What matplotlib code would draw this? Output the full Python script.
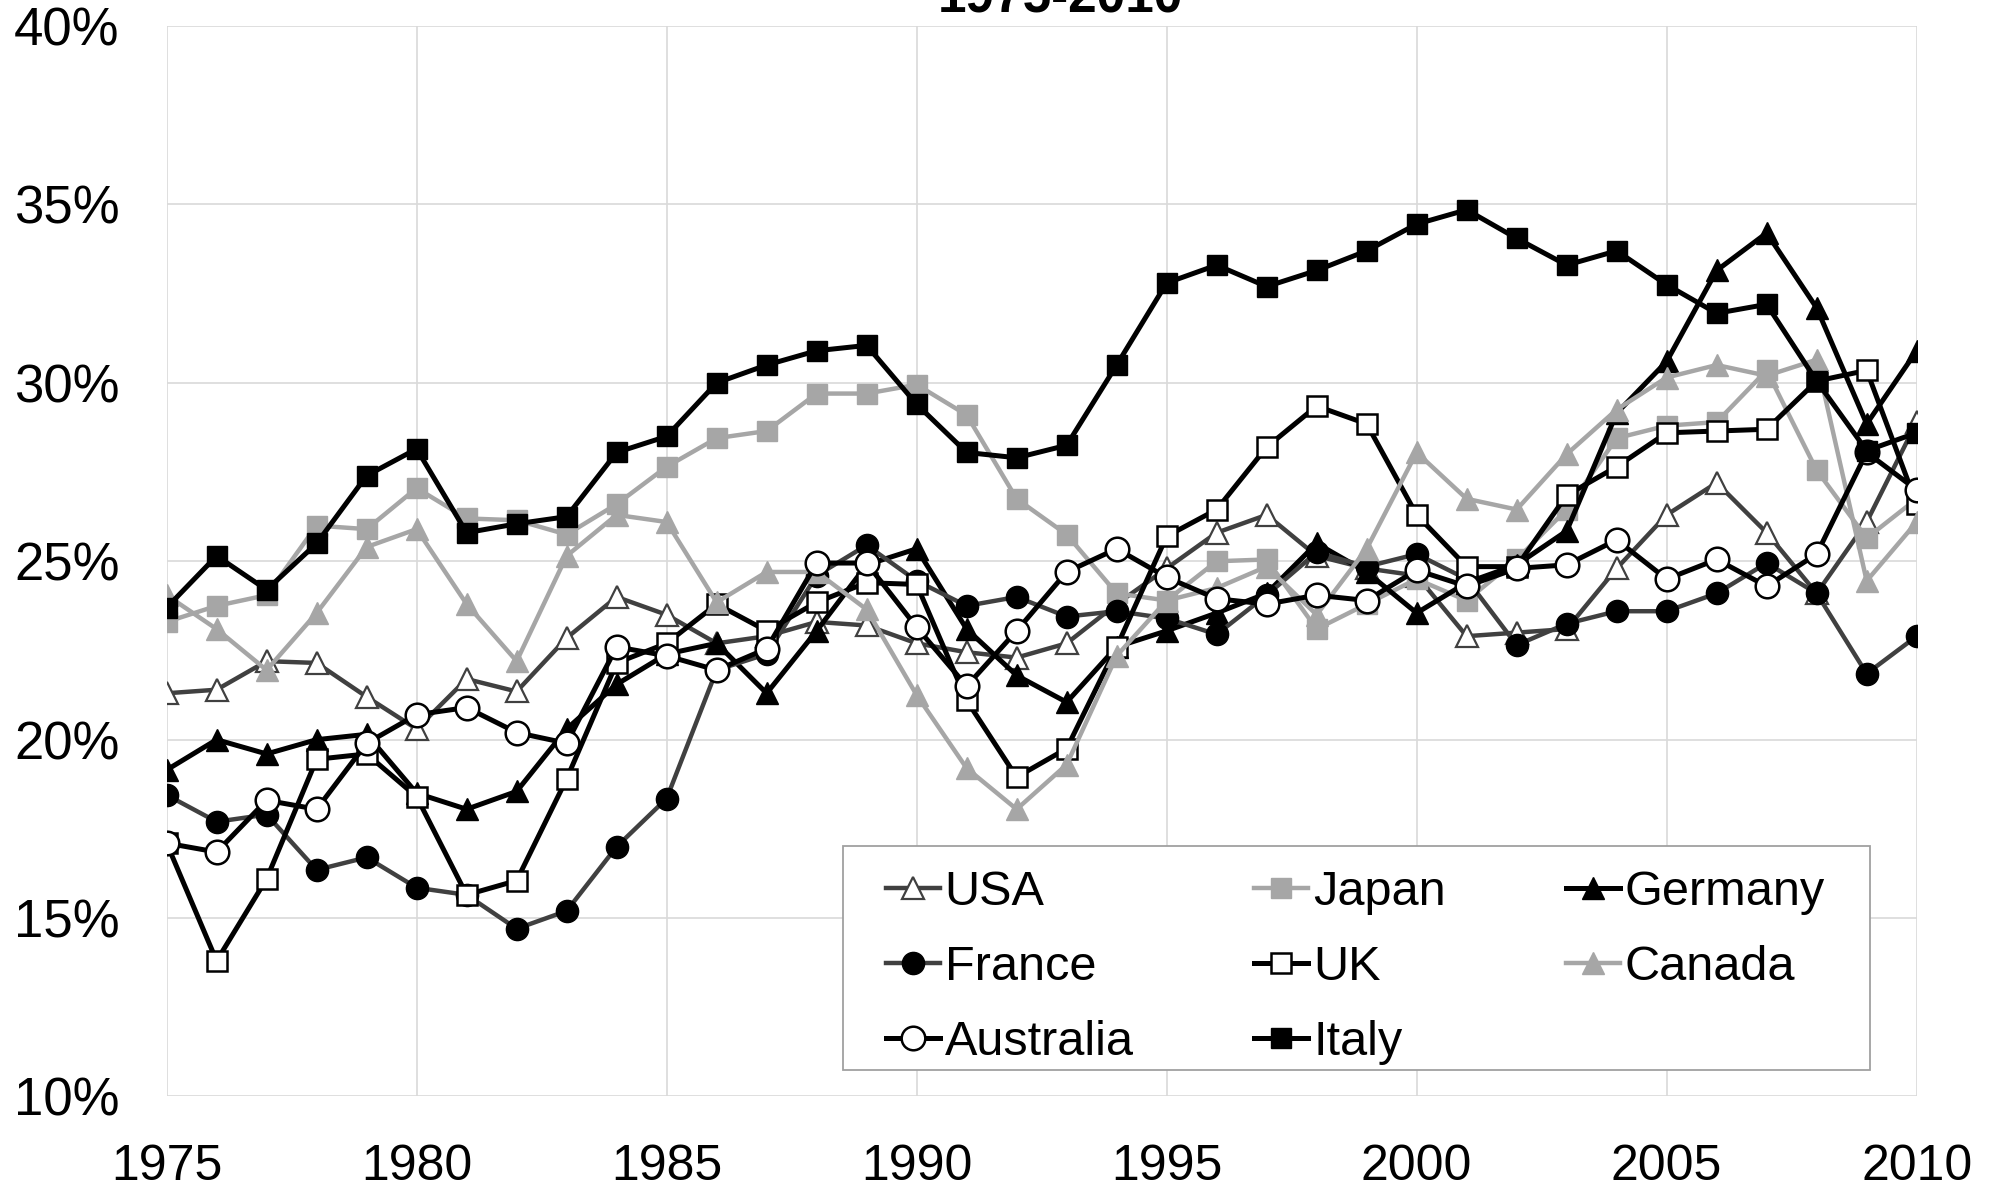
"""
Investment share of GDP, G7 countries and Australia, 1975-2010
"""
import matplotlib
matplotlib.use("Agg")
import matplotlib.pyplot as plt
from matplotlib.patches import Rectangle
from matplotlib.ticker import FuncFormatter

# Data (percent of GDP)
years = list(range(1975, 2011))

usa = [21.3, 21.4, 22.2, 22.15, 21.2, 20.3, 21.7, 21.35, 22.85, 24.0,
       23.5, 22.7, 22.9, 23.3, 23.2, 22.7, 22.45, 22.3, 22.7, 23.8,
       24.8, 25.8, 26.3, 25.15, 24.8, 24.6, 22.9, 23.0, 23.1, 24.8,
       26.3, 27.2, 25.8, 24.1, 26.1, 28.9]
japan = [23.3, 23.75, 24.05, 26.0, 25.9, 27.05, 26.2, 26.15, 25.75, 26.6,
         27.65, 28.45, 28.65, 29.7, 29.7, 29.95, 29.1, 26.75, 25.75, 24.1,
         23.9, 25.0, 25.05, 23.1, 23.8, 24.5, 23.9, 25.05, 26.45, 28.45,
         28.8, 28.9, 30.35, 27.55, 25.65, 26.75]
germany = [19.15, 20.0, 19.6, 20.0, 20.15, 18.5, 18.05, 18.55, 20.3, 21.55,
           22.4, 22.7, 21.3, 23.05, 24.9, 25.35, 23.1, 21.8, 21.05, 22.6,
           23.05, 23.55, 24.1, 25.5, 24.7, 23.55, 24.4, 24.9, 25.85, 29.15,
           30.6, 33.15, 34.2, 32.1, 28.85, 30.9]
france = [18.45, 17.7, 17.9, 16.35, 16.7, 15.85, 15.65, 14.7, 15.2, 17.0,
          18.35, 21.95, 22.4, 24.6, 25.45, 24.45, 23.75, 24.0, 23.45, 23.6,
          23.4, 22.95, 24.05, 25.25, 24.85, 25.2, 24.5, 22.65, 23.25, 23.6,
          23.6, 24.1, 24.95, 24.1, 21.85, 22.9]
uk = [17.1, 13.8, 16.1, 19.45, 19.6, 18.4, 15.65, 16.05, 18.9, 22.15,
      22.7, 23.8, 23.05, 23.85, 24.4, 24.35, 21.1, 18.95, 19.75, 22.6,
      25.7, 26.45, 28.2, 29.35, 28.85, 26.3, 24.85, 24.85, 26.85, 27.65,
      28.6, 28.65, 28.7, 30.05, 30.35, 26.6]
canada = [24.05, 23.1, 21.95, 23.55, 25.4, 25.9, 23.8, 22.2, 25.15, 26.3,
          26.1, 23.85, 24.7, 24.7, 23.65, 21.25, 19.2, 18.05, 19.3, 22.35,
          23.9, 24.25, 24.85, 23.5, 25.35, 28.05, 26.75, 26.45, 28.0, 29.25,
          30.15, 30.5, 30.2, 30.65, 24.45, 26.1]
australia = [17.1, 16.85, 18.3, 18.05, 19.9, 20.7, 20.9, 20.2, 19.9, 22.6,
             22.35, 21.95, 22.55, 24.95, 24.95, 23.15, 21.5, 23.05, 24.7, 25.35,
             24.55, 23.95, 23.8, 24.05, 23.9, 24.75, 24.3, 24.8, 24.9, 25.6,
             24.5, 25.05, 24.3, 25.2, 28.05, 27.0]
italy = [23.7, 25.15, 24.2, 25.5, 27.4, 28.15, 25.8, 26.05, 26.25, 28.05,
         28.5, 30.0, 30.5, 30.9, 31.05, 29.4, 28.05, 27.9, 28.25, 30.5,
         32.8, 33.3, 32.7, 33.15, 33.7, 34.45, 34.85, 34.05, 33.3, 33.7,
         32.75, 31.95, 32.2, 30.05, 28.1, 28.6]

plt.rcParams['font.family'] = ['Liberation Sans', 'DejaVu Sans']

BLACK = '#000000'
DARK = '#404040'
LIGHT = '#a6a6a6'

fig = plt.figure(figsize=(19.98, 11.90), dpi=100)
ax = fig.add_axes([0.0834, 0.0786, 0.8759, 0.8995])

lw_b = 3.6
lw_g = 3.2
l_usa, = ax.plot(years, usa, color=DARK, lw=lw_g, marker='^', ms=16,
                 mfc='white', mec=DARK, mew=1.6, label='USA')
l_jap, = ax.plot(years, japan, color=LIGHT, lw=lw_g, marker='s', ms=14,
                 mfc=LIGHT, mec=LIGHT, label='Japan')
l_ger, = ax.plot(years, germany, color=BLACK, lw=lw_b, marker='^', ms=16,
                 mfc=BLACK, mec=BLACK, label='Germany')
l_fra, = ax.plot(years, france, color=DARK, lw=lw_g, marker='o', ms=16,
                 mfc=BLACK, mec=BLACK, label='France')
l_uk, = ax.plot(years, uk, color=BLACK, lw=lw_b, marker='s', ms=15,
                mfc='white', mec=BLACK, mew=1.8, label='UK')
l_can, = ax.plot(years, canada, color=LIGHT, lw=lw_g, marker='^', ms=16,
                 mfc=LIGHT, mec=LIGHT, label='Canada')
l_aus, = ax.plot(years, australia, color=BLACK, lw=lw_b, marker='o', ms=17,
                 mfc='white', mec=BLACK, mew=1.8, label='Australia')
l_ita, = ax.plot(years, italy, color=BLACK, lw=lw_b, marker='s', ms=14,
                 mfc=BLACK, mec=BLACK, label='Italy')

ax.set_xlim(1975, 2010)
ax.set_ylim(10, 40)
ax.set_xticks(range(1975, 2011, 5))
ax.set_yticks(range(10, 41, 5))
ax.yaxis.set_major_formatter(FuncFormatter(lambda v, p: '%d%%' % v))
ax.tick_params(axis='both', length=0)
ax.tick_params(axis='y', labelsize=38, pad=34)
ax.tick_params(axis='x', labelsize=36, pad=34)
ax.grid(True, color='#d9d9d9', lw=1.2)
ax.set_axisbelow(True)
for s in ax.spines.values():
    s.set_visible(False)

# legend box drawn separately so the padding can differ by side
box = Rectangle((0.3865, 0.0248), 0.5868, 0.2092, transform=ax.transAxes,
                facecolor='white', edgecolor='#a0a0a0', lw=1.3, zorder=5)
ax.add_patch(box)

handles = [l_usa, l_fra, l_aus, l_jap, l_uk, l_ita, l_ger, l_can]
leg = ax.legend(handles=handles, ncol=3, loc='upper left', mode='expand',
                bbox_to_anchor=(0.4110, 0.0, 0.5367, 0.2115),
                borderaxespad=0, borderpad=0, frameon=False,
                fontsize=35, handlelength=1.11, handletextpad=0.1,
                columnspacing=1.0, labelspacing=0.62, numpoints=1)
leg.set_zorder(6)

fig.text(0.5305, 0.9893, '1975-2010', ha='center', va='baseline',
         fontsize=37, fontweight='bold')

fig.savefig('out.png', dpi=100)
